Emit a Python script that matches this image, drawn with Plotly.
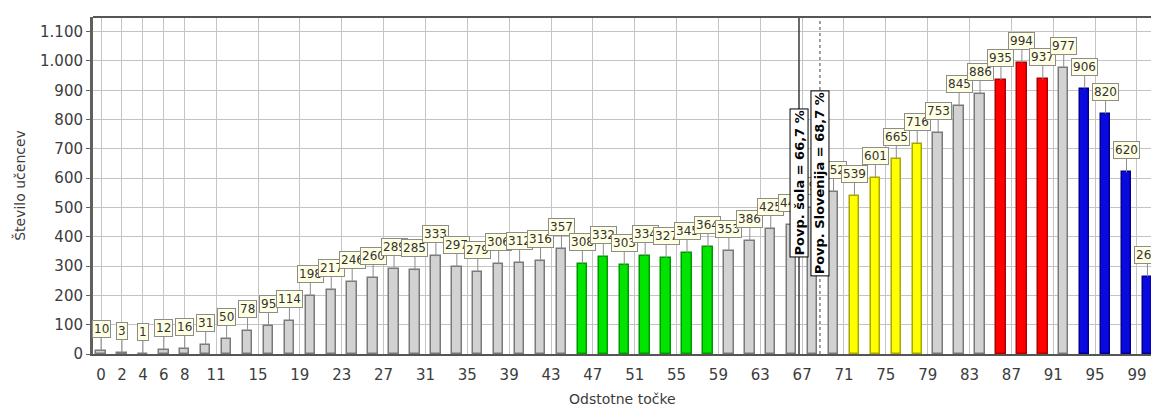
import plotly.graph_objects as go

# ---- data ----
points = [0, 2, 4, 6, 8, 10, 12, 14, 16, 18, 20, 22, 24, 26, 28, 30, 32, 34, 36, 38,
          40, 42, 44, 46, 48, 50, 52, 54, 56, 58, 60, 62, 64, 66, 68, 70, 72, 74, 76, 78,
          80, 82, 84, 86, 88, 90, 92, 94, 96, 98, 100]
counts = [10, 3, 1, 12, 16, 31, 50, 78, 95, 114, 198, 217, 246, 260, 289, 285, 333, 297, 279, 306,
          312, 316, 357, 308, 332, 303, 334, 327, 345, 364, 353, 386, 425, 440, 497, 552, 539, 601, 665, 716,
          753, 845, 886, 935, 994, 937, 977, 906, 820, 620, 264]
groups = (["grey"] * 23 + ["green"] * 7 + ["grey"] * 6 + ["yellow"] * 4 + ["grey"] * 3
          + ["red"] * 3 + ["grey"] + ["blue"] * 4)
x_tick_vals = [0, 2, 4, 6, 8, 11, 15, 19, 23, 27, 31, 35, 39, 43, 47, 51, 55, 59, 63, 67,
               71, 75, 79, 83, 87, 91, 95, 99]
y_tick_vals = [0, 100, 200, 300, 400, 500, 600, 700, 800, 900, 1000, 1100]
y_tick_text = ["0", "100", "200", "300", "400", "500", "600", "700", "800", "900", "1.000", "1.100"]
avg_school = 66.7
avg_slovenia = 68.7
avg_school_label = "Povp. šola = 66,7 %"
avg_slovenia_label = "Povp. Slovenija = 68,7 %"
x_title = "Odstotne točke"
y_title = "Število učencev"

# ---- styles ----
fill = {"grey": "#d2d2d2", "green": "#00e400", "yellow": "#ffff00", "red": "#ff0000", "blue": "#0a0ae0"}
edge = {"grey": "#7a7a7a", "green": "#009a00", "yellow": "#a8a800", "red": "#b00000", "blue": "#00008a"}

fig = go.Figure()
fig.add_trace(go.Bar(
    x=points, y=counts, width=0.9,
    marker=dict(color=[fill[g] for g in groups],
                line=dict(color=[edge[g] for g in groups], width=1.5)),
    hoverinfo="x+y", showlegend=False,
))

annotations = []
for xv, v in zip(points, counts):
    annotations.append(dict(
        x=xv, y=v, xref="x", yref="y", text=str(v),
        showarrow=True, arrowhead=0, arrowwidth=1, arrowcolor="#8c8c8c",
        ax=0, ay=-22, standoff=0,
        bgcolor="#ffffe4", bordercolor="#8c8c8c", borderwidth=1, borderpad=1,
        font=dict(family="DejaVu Sans", size=12, color="#333333"),
    ))

for xv, txt in [(avg_school, avg_school_label), (avg_slovenia, avg_slovenia_label)]:
    annotations.append(dict(
        x=xv, y=582, xref="x", yref="y", text="<b>" + txt + "</b>",
        showarrow=False, textangle=-90,
        bgcolor="#ffffff", bordercolor="#000000", borderwidth=1, borderpad=1,
        font=dict(family="DejaVu Sans", size=13, color="#000000"),
    ))

annotations.append(dict(
    x=0.5, y=-0.105, xref="paper", yref="paper", text=x_title, showarrow=False,
    xanchor="center", yanchor="top", font=dict(family="DejaVu Sans", size=14, color="#3c3c3c"),
))

shapes = [
    dict(type="line", xref="x", yref="paper", x0=avg_school, x1=avg_school, y0=0, y1=1,
         line=dict(color="#3a3a3a", width=1.5)),
    dict(type="line", xref="x", yref="paper", x0=avg_slovenia, x1=avg_slovenia, y0=0, y1=1,
         line=dict(color="#808080", width=1.5, dash="dot")),
    dict(type="line", xref="paper", yref="paper", x0=0, x1=1, y0=1, y1=1,
         line=dict(color="#555555", width=2)),
]

fig.update_layout(
    width=1151, height=412,
    margin=dict(l=93, r=0, t=17, b=58, autoexpand=False),
    paper_bgcolor="#ffffff", plot_bgcolor="#ffffff",
    font=dict(family="DejaVu Sans", color="#3c3c3c"),
    annotations=annotations, shapes=shapes,
    bargap=0,
)
fig.update_xaxes(
    range=[-0.77, 100.34], tickvals=x_tick_vals, automargin=False,
    showgrid=True, gridcolor="#c4c4c4", gridwidth=1,
    showline=True, linecolor="#555555", linewidth=2, mirror=False,
    ticks="", ticklabelstandoff=6, tickfont=dict(size=15, color="#3c3c3c"),
    zeroline=False,
)
fig.update_yaxes(
    range=[0, 1150], tickvals=y_tick_vals, ticktext=y_tick_text, automargin=False,
    showgrid=True, gridcolor="#c4c4c4", gridwidth=1,
    showline=True, linecolor="#606060", linewidth=3,
    ticks="outside", ticklen=4, tickcolor="#606060",
    tickfont=dict(size=15, color="#3c3c3c"),
    title=dict(text=y_title, font=dict(size=14, color="#3c3c3c"), standoff=12),
    zeroline=False,
)

fig.write_html("out.html", config={"displayModeBar": False},
               post_script="document.body.style.margin='0';document.body.style.overflow='hidden';")
